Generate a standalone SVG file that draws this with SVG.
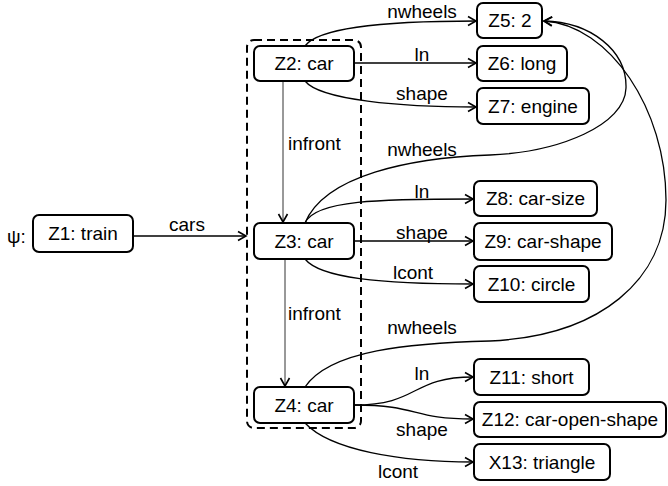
<svg xmlns="http://www.w3.org/2000/svg" width="668" height="486" viewBox="0 0 668 486">
  <style>
    text { font-family: "Liberation Sans", Arial, sans-serif; font-size: 19px; fill: #000; }
    .node rect { fill: #fff; stroke: #000; stroke-width: 2; }
    .node text { text-anchor: middle; }
    .edge { fill: none; stroke: #000; stroke-width: 1.3; marker-end: url(#arrow); }
    .edge.thin { stroke-width: 1; stroke: #333; }
    .lbl { text-anchor: middle; }
    .group { fill: none; stroke: #000; stroke-width: 2; stroke-dasharray: 8 5; }
  </style>
  <defs>
    <marker id="arrow" markerUnits="userSpaceOnUse" markerWidth="12" markerHeight="12" refX="9" refY="5" orient="auto" viewBox="0 0 12 10">
      <path d="M1,0.5 L9,5 L1,9.5" fill="none" stroke="#000" stroke-width="1.6"/>
    </marker>
  </defs>

  <!-- dashed grouping of the cars -->
  <rect class="group" x="247" y="40" width="114" height="388" rx="7"/>

  <g id="connectors">
    <path class="edge" d="M133,236 L246,236"/>
    <path class="edge" d="M305,46 C320,25 400,21 476,21"/>
    <path class="edge" d="M354,63 L476,63"/>
    <path class="edge" d="M305,81 C320,100 400,107 476,107"/>
    <path class="edge thin" d="M283,81 L283,222"/>
    <path class="edge" d="M305,223 C325,175 410,158 490,155 C560,152 625,125 626,88 C627,50 590,22 544,21"/>
    <path class="edge" d="M305,223 C315,200 380,199 473,199"/>
    <path class="edge" d="M354,241 L473,241"/>
    <path class="edge" d="M305,259 C320,278 380,284 473,284"/>
    <path class="edge thin" d="M285,259 L285,386"/>
    <path class="edge" d="M305,387 C330,350 410,343 490,341 C600,336 666,280 666,200 C666,110 610,25 544,21"/>
    <path class="edge" d="M354,405 C420,405 410,377 473,377"/>
    <path class="edge" d="M354,405 C420,405 410,419 473,419"/>
    <path class="edge" d="M305,423 C330,450 400,462 473,462"/>
  </g>

  <g id="edge-labels">
    <text class="lbl" x="187" y="231">cars</text>
    <text class="lbl" x="422" y="18">nwheels</text>
    <text class="lbl" x="422" y="61">ln</text>
    <text class="lbl" x="422" y="100">shape</text>
    <text x="288" y="150">infront</text>
    <text class="lbl" x="422" y="156">nwheels</text>
    <text class="lbl" x="422" y="198">ln</text>
    <text class="lbl" x="422" y="239">shape</text>
    <text class="lbl" x="413" y="279">lcont</text>
    <text x="288" y="320">infront</text>
    <text class="lbl" x="422" y="334">nwheels</text>
    <text class="lbl" x="422" y="380">ln</text>
    <text class="lbl" x="422" y="436">shape</text>
    <text class="lbl" x="398" y="478">lcont</text>
  </g>

  <text x="7" y="243">ψ:</text>

  <g id="Z1" class="node"><rect x="33" y="215" width="100" height="37" rx="6"/><text x="83" y="240">Z1: train</text></g>
  <g id="Z2" class="node"><rect x="254" y="46" width="100" height="35" rx="6"/><text x="304" y="70">Z2: car</text></g>
  <g id="Z3" class="node"><rect x="254" y="223" width="100" height="36" rx="6"/><text x="304" y="248">Z3: car</text></g>
  <g id="Z4" class="node"><rect x="254" y="387" width="100" height="36" rx="6"/><text x="304" y="412">Z4: car</text></g>
  <g id="Z5" class="node"><rect x="477" y="3" width="65" height="35" rx="6"/><text x="510" y="27">Z5: 2</text></g>
  <g id="Z6" class="node"><rect x="477" y="46" width="90" height="35" rx="6"/><text x="522" y="70">Z6: long</text></g>
  <g id="Z7" class="node"><rect x="477" y="88" width="112" height="36" rx="6"/><text x="533" y="113">Z7: engine</text></g>
  <g id="Z8" class="node"><rect x="474" y="181" width="123" height="35" rx="6"/><text x="535.5" y="205">Z8: car-size</text></g>
  <g id="Z9" class="node"><rect x="474" y="223" width="138" height="37" rx="6"/><text x="543" y="248">Z9: car-shape</text></g>
  <g id="Z10" class="node"><rect x="474" y="266" width="115" height="36" rx="6"/><text x="531.5" y="291">Z10: circle</text></g>
  <g id="Z11" class="node"><rect x="474" y="359" width="115" height="36" rx="6"/><text x="531.5" y="384">Z11: short</text></g>
  <g id="Z12" class="node"><rect x="474" y="402" width="192" height="35" rx="6"/><text x="570" y="426">Z12: car-open-shape</text></g>
  <g id="X13" class="node"><rect x="474" y="444" width="136" height="36" rx="6"/><text x="542" y="469">X13: triangle</text></g>
</svg>
